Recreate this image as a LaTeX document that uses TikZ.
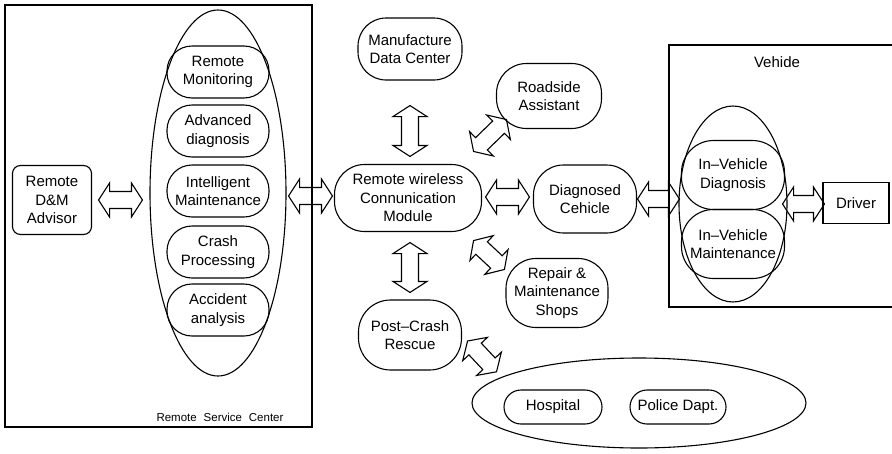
\documentclass[tikz,border=0pt]{standalone}
\usepackage{fontspec}
\setmainfont{Liberation Sans}
\usetikzlibrary{calc,shapes.geometric}

% block double arrow dimensions: head length, head half-width, shaft half-width
\newcommand{\bahl}{11pt}
\newcommand{\bahw}{17pt}
\newcommand{\basw}{8.5pt}

% outlined double-headed block arrow between two named points
\newcommand{\blockarrow}[2]{%
  \draw[blockarr] (#1)
    -- ($(#1)!\bahl!(#2)!\bahw!90:(#2)$)
    -- ($(#1)!\bahl!(#2)!\basw!90:(#2)$)
    -- ($(#2)!\bahl!(#1)!\basw!-90:(#1)$)
    -- ($(#2)!\bahl!(#1)!\bahw!-90:(#1)$)
    -- (#2)
    -- ($(#2)!\bahl!(#1)!\bahw!90:(#1)$)
    -- ($(#2)!\bahl!(#1)!\basw!90:(#1)$)
    -- ($(#1)!\bahl!(#2)!\basw!-90:(#2)$)
    -- ($(#1)!\bahl!(#2)!\bahw!-90:(#2)$)
    -- cycle;}

\tikzset{
  lbl/.style={font=\fontsize{15}{18.5}\selectfont, align=center},
  stad/.style={draw, line width=1.1pt, rounded corners=#1, lbl, inner sep=0pt},
  stad/.default=24pt,
  box/.style={draw, line width=1.1pt, lbl, inner sep=0pt},
  oval/.style={draw, line width=1.1pt, ellipse, inner sep=0pt},
  frame/.style={line width=1.1pt},
  blockarr/.style={draw, line width=1.1pt, line join=miter},
}

\begin{document}
\begin{tikzpicture}[x=1pt, y=-1pt]
\useasboundingbox (0,0) rectangle (892,453);

% remote service center
\draw[frame] (5,5) rectangle (312,427);
\node[font=\fontsize{11.5}{14}\selectfont] (rsclbl) at (220,417)
  {Remote\hspace{0.6em}Service\hspace{0.6em}Center};
\node[oval, minimum width=136pt, minimum height=366pt] (rsce) at (218,193) {};
\node[stad=25pt, minimum width=102pt, minimum height=52pt] (m1) at (218,72) {Remote\\Monitoring};
\node[stad=25pt, minimum width=102pt, minimum height=52pt] (m2) at (218,131) {Advanced\\diagnosis};
\node[stad=25pt, minimum width=102pt, minimum height=52pt] (m3) at (218,191) {Intelligent\\Maintenance};
\node[stad=25pt, minimum width=102pt, minimum height=52pt] (m4) at (218,252) {Crash\\Processing};
\node[stad=25pt, minimum width=102pt, minimum height=52pt] (m5) at (218,310) {Accident\\analysis};

\node[stad=8pt, minimum width=79pt, minimum height=69pt] (adv) at (52,200) {Remote\\D\&M\\Advisor};

% central module and its partners
\node[stad=30pt, minimum width=147pt, minimum height=67pt] (rwcm) at (408,198) {Remote wireless\\Connunication\\Module};
\node[stad=28pt, minimum width=104pt, minimum height=62pt] (mdc) at (410,49) {Manufacture\\Data Center};
\node[stad=30pt, minimum width=105pt, minimum height=65pt] (road) at (549,96) {Roadside\\Assistant};
\node[stad=30pt, minimum width=103pt, minimum height=68pt] (diag) at (585,199) {Diagnosed\\Cehicle};
\node[stad=30pt, minimum width=102pt, minimum height=69pt] (repair) at (557,293) {Repair \&\\Maintenance\\Shops};
\node[stad=32pt, minimum width=103pt, minimum height=70pt] (pcr) at (410,335) {Post–Crash\\Rescue};

% emergency services
\node[oval, minimum width=334pt, minimum height=90pt] (hell) at (639,403) {};
\node[stad=17pt, minimum width=98pt, minimum height=34pt] (hosp) at (553,407) {Hospital};
\node[stad=17pt, minimum width=96pt, minimum height=34pt] (police) at (678,407) {Police Dapt.};

% vehicle
\draw[frame] (892,45) -- (669,45) -- (669,307) -- (892,307);
\node[lbl] (vlbl) at (777,62) {Vehide};
\node[oval, minimum width=108pt, minimum height=196pt] (ivell) at (733,204) {};
\node[stad=32pt, minimum width=103pt, minimum height=69pt] (ivd) at (733,175) {In–Vehicle\\Diagnosis};
\node[stad=32pt, minimum width=103pt, minimum height=69pt] (ivm) at (733,244) {In–Vehicle\\Maintenance};
\node[box, minimum width=66pt, minimum height=41pt] (driver) at (856,203) {Driver};

% arrow end points
\coordinate (a1) at ($(adv.east)+(6.5,0)$);
\coordinate (a2) at ($(adv.east -| rsce.west)+(-7,0)$);
\coordinate (b1) at ($(rsce.east)+(2,3)$);
\coordinate (b2) at ($(rwcm.west)+(-1.5,-2)$);
\coordinate (c1) at ($(rwcm.east)+(3.5,-1)$);
\coordinate (c2) at ($(diag.west)+(-3.5,-2)$);
\coordinate (d1) at ($(diag.east)+(0.5,0)$);
\coordinate (d2) at ($(diag.east -| ivell.west)+(1,0)$);
\coordinate (e1) at ($(ivell.east)+(-5,0)$);
\coordinate (e2) at ($(driver.west)+(2,1)$);
\coordinate (f1) at ($(mdc.south)+(0,25)$);
\coordinate (f2) at ($(mdc.south |- rwcm.north)+(0,-7.5)$);
\coordinate (g1) at ($(pcr.north |- rwcm.south)+(0,10.5)$);
\coordinate (g2) at ($(pcr.north)+(0,-7)$);
\coordinate (h1) at ($(rwcm.north east)+(-8.5,-12.5)$);
\coordinate (h2) at ($(road.south west)+(10.5,-9.5)$);
\coordinate (i1) at ($(rwcm.south east)+(-8.5,8.5)$);
\coordinate (i2) at ($(repair.north west)+(-1,11.5)$);
\coordinate (j1) at ($(pcr.east)+(5.5,6)$);
\coordinate (j2) at ($(hell.north west)+(-24,1)$);

% block arrows
\blockarrow{a1}{a2}
\blockarrow{b1}{b2}
\blockarrow{c1}{c2}
\blockarrow{d1}{d2}
\blockarrow{e1}{e2}
\blockarrow{f1}{f2}
\blockarrow{g1}{g2}
\blockarrow{h1}{h2}
\blockarrow{i1}{i2}
\blockarrow{j1}{j2}
\end{tikzpicture}
\end{document}
